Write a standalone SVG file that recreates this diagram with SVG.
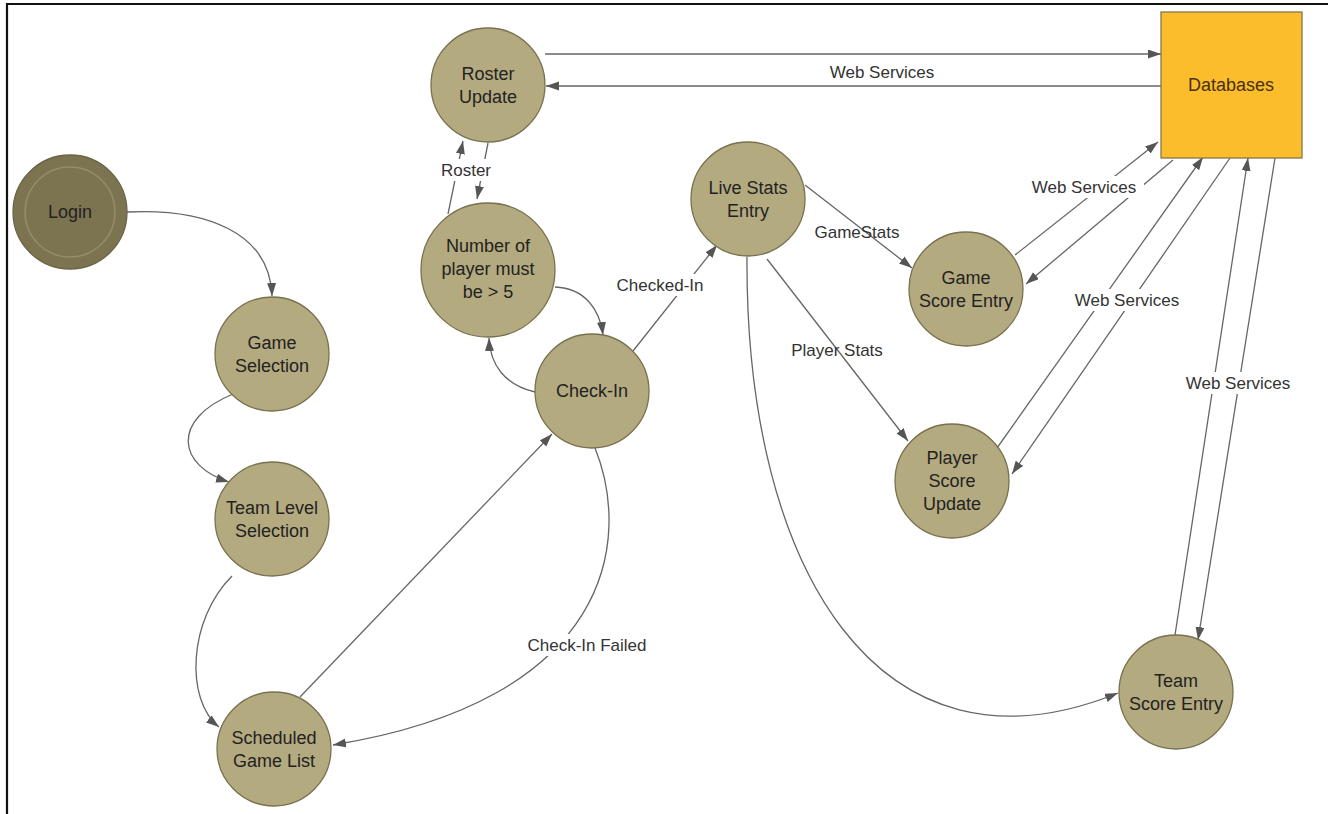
<svg xmlns="http://www.w3.org/2000/svg" width="1328" height="814" viewBox="0 0 1328 814">
<defs>
<style>
.node{fill:#b4aa80;stroke:#77714f;stroke-width:1.3}
.t{font-family:"Liberation Sans",Arial,sans-serif;font-size:18px;fill:#222;text-anchor:middle}
.lbl{font-family:"Liberation Sans",Arial,sans-serif;font-size:17px;fill:#333;text-anchor:middle}
.c{fill:none;stroke:#666;stroke-width:1.3;marker-end:url(#ah)}
.bg{fill:#fff}
</style>
<marker id="ah" markerUnits="userSpaceOnUse" markerWidth="14" markerHeight="10" refX="13" refY="4.5" orient="auto">
<path d="M0,0 L13,4.5 L0,9 z" fill="#555"/>
</marker>
</defs>
<rect width="1328" height="814" fill="#fff"/>
<g id="border" stroke="#111" stroke-width="2.2" fill="none">
<path d="M7,814 L7,4 L1328,4"/>
</g>
<g id="connectors">
<path class="c" d="M127,212 C205,208 270,232 272,296"/>
<path class="c" d="M233,394 C170,420 178,466 229,482"/>
<path class="c" d="M232,576 C188,620 185,700 219,727"/>
<path class="c" d="M300,697 L552,434"/>
<path class="c" d="M595,448 C632,540 612,700 333,745"/>
<path class="c" d="M535,392 C505,385 490,365 489,338"/>
<path class="c" d="M555,287 C585,288 600,310 603,335"/>
<path class="c" d="M448,214 L463,141"/>
<path class="c" d="M488,143 L477,199"/>
<path class="c" d="M545,54 L1161,54"/>
<path class="c" d="M1161,86 L546,86"/>
<path class="c" d="M633,351 L717,245"/>
<path class="c" d="M805,185 L912,268"/>
<path class="c" d="M767,259 L908,441"/>
<path class="c" d="M747,257 C745,570 880,790 1118,693"/>
<path class="c" d="M1015,255 L1158,142"/>
<path class="c" d="M1173,160 L1026,284"/>
<path class="c" d="M997,448 L1203,157"/>
<path class="c" d="M1230,158 L1012,474"/>
<path class="c" d="M1175,635 L1248,158"/>
<path class="c" d="M1275,158 L1198,640"/>
</g>
<g id="labels">
<rect class="bg" x="822" y="61" width="120" height="22"/>
<text class="lbl" x="882" y="78">Web Services</text>
<rect class="bg" x="440" y="159" width="52" height="22"/>
<text class="lbl" x="466" y="176">Roster</text>
<rect class="bg" x="612" y="274" width="97" height="22"/>
<text class="lbl" x="660" y="291">Checked-In</text>
<text class="lbl" x="857" y="238">GameStats</text>
<text class="lbl" x="837" y="356">Player Stats</text>
<rect class="bg" x="521" y="634" width="132" height="22"/>
<text class="lbl" x="587" y="651">Check-In Failed</text>
<rect class="bg" x="1024" y="176" width="120" height="22"/>
<text class="lbl" x="1084" y="193">Web Services</text>
<rect class="bg" x="1067" y="289" width="120" height="22"/>
<text class="lbl" x="1127" y="306">Web Services</text>
<rect class="bg" x="1178" y="372" width="120" height="22"/>
<text class="lbl" x="1238" y="389">Web Services</text>
</g>
<g id="login">
<circle cx="70" cy="212" r="57" fill="#7c7450" stroke="#6a6444" stroke-width="1.3"/>
<circle cx="70" cy="212" r="45" fill="none" stroke="#948c66" stroke-width="1.5"/>
<text class="t" x="70" y="218">Login</text>
</g>
<g id="game-selection">
<circle class="node" cx="272" cy="354" r="57"/>
<text class="t" x="272" y="349">Game</text>
<text class="t" x="272" y="372">Selection</text>
</g>
<g id="team-level-selection">
<circle class="node" cx="272" cy="519" r="57"/>
<text class="t" x="272" y="514">Team Level</text>
<text class="t" x="272" y="537">Selection</text>
</g>
<g id="scheduled-game-list">
<circle class="node" cx="274" cy="749" r="57"/>
<text class="t" x="274" y="744">Scheduled</text>
<text class="t" x="274" y="767">Game List</text>
</g>
<g id="roster-update">
<circle class="node" cx="488" cy="85" r="57"/>
<text class="t" x="488" y="80">Roster</text>
<text class="t" x="488" y="103">Update</text>
</g>
<g id="number-of-player">
<circle class="node" cx="488" cy="270" r="67"/>
<text class="t" x="488" y="252">Number of</text>
<text class="t" x="488" y="275">player must</text>
<text class="t" x="488" y="298">be &gt; 5</text>
</g>
<g id="check-in">
<circle class="node" cx="592" cy="391" r="57"/>
<text class="t" x="592" y="397">Check-In</text>
</g>
<g id="live-stats-entry">
<circle class="node" cx="748" cy="199" r="57"/>
<text class="t" x="748" y="194">Live Stats</text>
<text class="t" x="748" y="217">Entry</text>
</g>
<g id="game-score-entry">
<circle class="node" cx="966" cy="289" r="57"/>
<text class="t" x="966" y="284">Game</text>
<text class="t" x="966" y="307">Score Entry</text>
</g>
<g id="player-score-update">
<circle class="node" cx="952" cy="481" r="57"/>
<text class="t" x="952" y="464">Player</text>
<text class="t" x="952" y="487">Score</text>
<text class="t" x="952" y="510">Update</text>
</g>
<g id="team-score-entry">
<circle class="node" cx="1176" cy="692" r="57"/>
<text class="t" x="1176" y="687">Team</text>
<text class="t" x="1176" y="710">Score Entry</text>
</g>
<g id="databases">
<rect x="1161" y="12" width="141" height="146" fill="#fbbd2c" stroke="#85764e" stroke-width="1.3"/>
<text class="t" x="1231" y="91" style="fill:#4a3012">Databases</text>
</g>
</svg>
